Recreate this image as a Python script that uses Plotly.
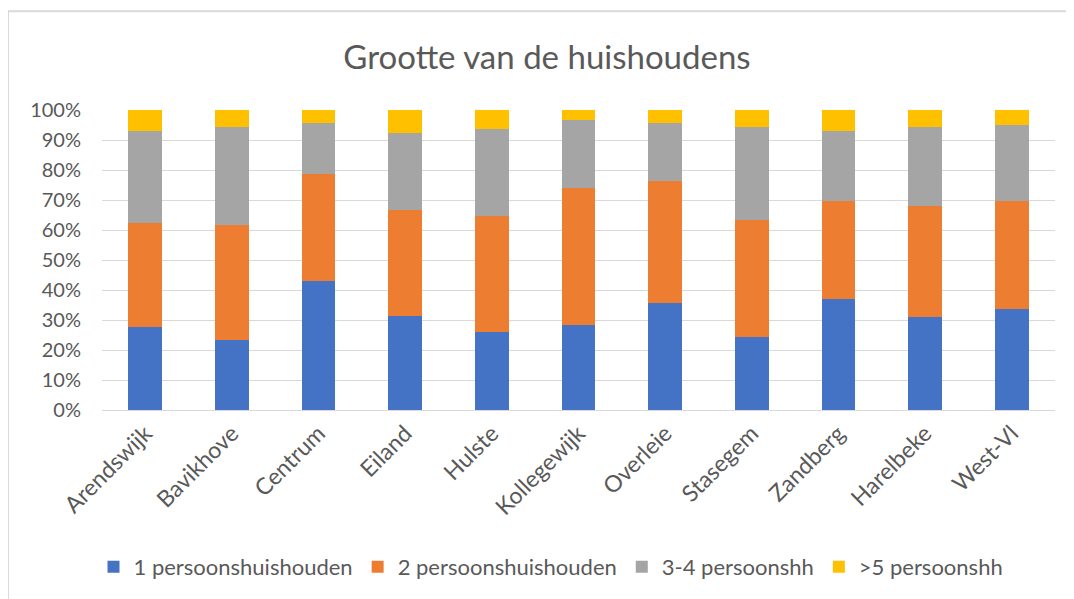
import plotly.graph_objects as go

categories = ["Arendswijk", "Bavikhove", "Centrum", "Eiland", "Hulste", "Kollegewijk",
              "Overleie", "Stasegem", "Zandberg", "Harelbeke", "West-Vl"]
p1 = [27.7, 23.5, 42.9, 31.5, 26.1, 28.5, 35.7, 24.3, 37.1, 31.1, 33.6]
p2 = [34.8, 38.2, 35.8, 35.2, 38.6, 45.5, 40.8, 39.1, 32.6, 37.0, 36.1]
p34 = [30.6, 32.7, 17.1, 25.7, 28.9, 22.6, 19.3, 31.1, 23.4, 26.4, 25.2]
p5 = [6.9, 5.6, 4.2, 7.6, 6.4, 3.4, 4.2, 5.5, 6.9, 5.5, 5.1]
series_names = ["1 persoonshuishouden", "2 persoonshuishouden", "3-4 persoonshh", ">5 persoonshh"]
series_values = [p1, p2, p34, p5]
colors = ["#4472C4", "#ED7D31", "#A5A5A5", "#FFC000"]
y_ticks = [0, 10, 20, 30, 40, 50, 60, 70, 80, 90, 100]
y_labels = [f"{v}%" for v in y_ticks]

FONT = "Lato, 'Open Sans', sans-serif"
TXT = "#595959"

fig = go.Figure()
for name, vals, c in zip(series_names, series_values, colors):
    fig.add_trace(go.Bar(x=categories, y=vals, name=name, marker_color=c,
                         marker_line_width=0))

# page has an 8px body margin; work in page pixels and convert
OFF = 8
W, H = 1074 - OFF, 599 - OFF
L, R, T, B = 102 - OFF, 1055 - OFF, 110 - OFF, 411 - OFF

def px_x(px):
    return (px - OFF - L) / (R - L)

def px_y(py):
    return (B - (py - OFF)) / (B - T)

fig.update_layout(
    width=W, height=H,
    margin=dict(l=L, r=W - R, t=T, b=H - B),
    barmode="stack", barnorm="percent", bargap=0.61,
    paper_bgcolor="white", plot_bgcolor="white",
    font=dict(family=FONT, color=TXT, size=20),
    title=dict(text="Grootte van de huishoudens", x=(547 - OFF) / W, xanchor="center",
               y=1 - (57 - OFF) / H, yanchor="middle", font=dict(size=33, color=TXT, family=FONT)),
    legend=dict(orientation="h", x=px_x(551), xanchor="center", y=px_y(567), yanchor="middle",
                font=dict(size=22, color=TXT, family=FONT), traceorder="normal",
                itemwidth=30, bgcolor="rgba(0,0,0,0)"),
    showlegend=True,
)
fig.update_yaxes(range=[0, 100], tickvals=y_ticks, ticktext=y_labels, showgrid=True,
                 gridcolor="#D9D9D9", gridwidth=1, zeroline=False, showline=False,
                 ticks="", ticklabelstandoff=20, tickfont=dict(size=20, color=TXT))
fig.update_xaxes(tickangle=-45, showline=True, linecolor="#D9D9D9", linewidth=1,
                 ticks="", tickfont=dict(size=23, color=TXT))
fig.add_shape(type="rect", xref="paper", yref="paper",
              x0=px_x(8), x1=px_x(1100), y0=px_y(620), y1=px_y(11),
              line=dict(color="#D9D9D9", width=2), fillcolor="rgba(0,0,0,0)", layer="below")

fig.write_html("out.html")
